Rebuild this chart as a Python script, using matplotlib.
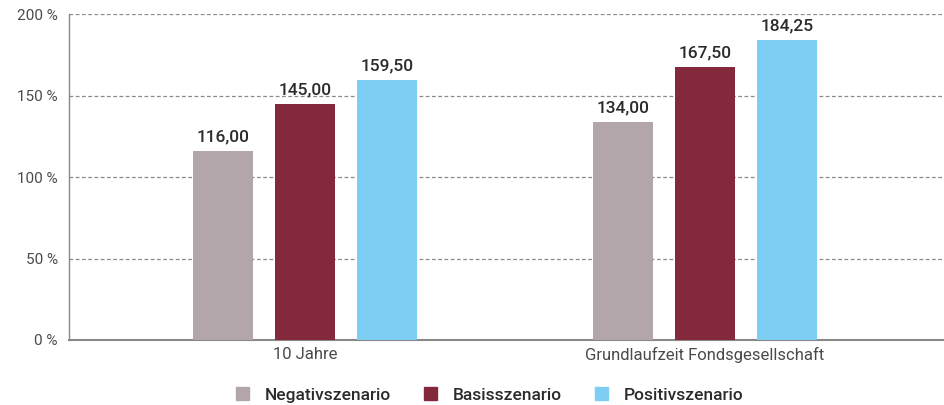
import matplotlib
matplotlib.use("Agg")
import matplotlib.pyplot as plt
from matplotlib.patches import Patch
import numpy as np

categories = ["10 Jahre", "Grundlaufzeit Fondsgesellschaft"]
series_names = ["Negativszenario", "Basisszenario", "Positivszenario"]
negativ = [116.00, 134.00]
basis = [145.00, 167.50]
positiv = [159.50, 184.25]
y_ticks = [0, 50, 100, 150, 200]
y_tick_labels = ["0 %", "50 %", "100 %", "150 %", "200 %"]

colors = ["#b3a6aa", "#84293b", "#7ecef4"]
plt.rcParams['font.family'] = ['Roboto', 'DejaVu Sans']

fig = plt.figure(figsize=(9.45, 4.05), dpi=100)
ax = fig.add_axes([0.073, 0.1605, 0.927, 0.8049])

x = np.arange(len(categories))
w = 0.15
offs = [-0.205, 0.0, 0.205]
for vals, off, c in zip([negativ, basis, positiv], offs, colors):
    bars = ax.bar(x + off, vals, width=w, color=c, zorder=3)
    for b, v in zip(bars, vals):
        ax.text(b.get_x() + b.get_width() / 2, v + 4,
                f"{v:.2f}".replace(".", ","), ha="center", va="bottom",
                fontsize=12.5, fontweight="medium", color="#2b2b2b")

ax.set_xlim(-0.59, 1.6)
ax.set_ylim(0, 200)
ax.set_yticks(y_ticks)
ax.set_yticklabels(y_tick_labels, fontsize=11, color="#4a4a4a")
ax.set_xticks(x)
ax.set_xticklabels(categories, fontsize=12, color="#4a4a4a")
ax.tick_params(length=0)
ax.tick_params(axis="y", pad=8)
ax.tick_params(axis="x", pad=5)
for yv in y_ticks[1:]:
    ax.axhline(yv, color="#8a8a8a", linestyle=(0, (3, 2)), linewidth=0.9, zorder=1)
for s in ["top", "right"]:
    ax.spines[s].set_visible(False)
ax.spines["left"].set_color("#888888")
ax.spines["left"].set_linewidth(1.0)
ax.spines["bottom"].set_color("#888888")
ax.spines["bottom"].set_linewidth(1.5)

handles = [Patch(color=c, label=n) for c, n in zip(colors, series_names)]
leg = fig.legend(handles=handles, loc="center", bbox_to_anchor=(0.518, 0.025),
                 ncol=3, frameon=False, handlelength=0.75, handleheight=0.75,
                 handletextpad=0.9, columnspacing=1.9,
                 prop={"size": 12.5, "weight": "medium"})
for t in leg.get_texts():
    t.set_color("#2b2b2b")

fig.savefig("out.png", dpi=100)
